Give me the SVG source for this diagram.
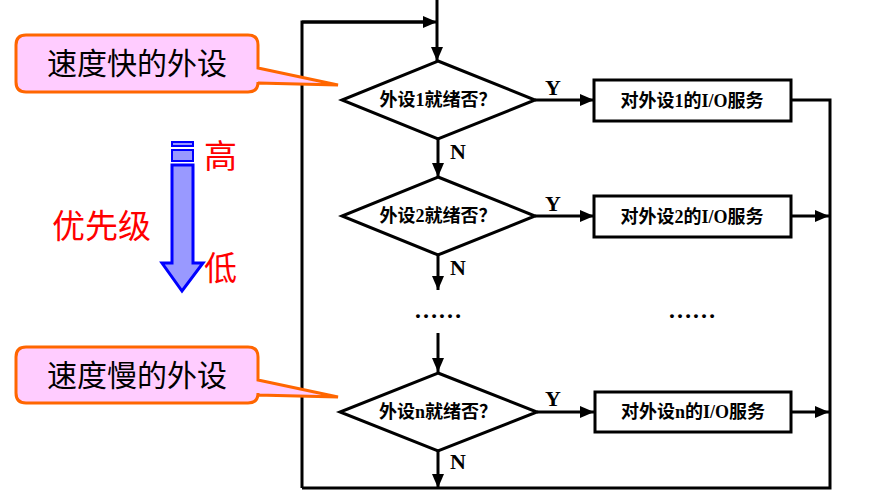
<svg xmlns="http://www.w3.org/2000/svg" width="893" height="495" viewBox="0 0 893 495">
<defs>
<marker id="ah" markerWidth="14" markerHeight="12" refX="14" refY="6" orient="auto" markerUnits="userSpaceOnUse" viewBox="0 0 14 12">
<path d="M0,0 L14,6 L0,12 Z" fill="#000"/>
</marker>
<style>
.ln{fill:none;stroke:#000;stroke-width:3}
.arr{fill:none;stroke:#000;stroke-width:3;marker-end:url(#ah)}
.shape{fill:#fff;stroke:#000;stroke-width:3}
.t{font-family:"Liberation Serif","Noto Sans CJK SC",serif;font-weight:bold;font-size:18px;fill:#000;text-anchor:middle}
.lbl{font-family:"Liberation Serif",serif;font-weight:bold;font-size:22px;fill:#000}
.call{fill:#FFCCFF;stroke:#FF6600;stroke-width:3}
.ct{font-family:"Noto Sans CJK SC",sans-serif;font-size:30px;fill:#000;text-anchor:middle}
.red{font-family:"Noto Sans CJK SC",sans-serif;font-size:33px;fill:#FF0000}
.dots{font-family:"Liberation Serif",serif;font-weight:bold;font-size:24px;fill:#000}
</style>
</defs>

<g id="connectors">
<path class="ln" d="M302,488 L302,22 L426,22"/>
<path class="arr" d="M302,22 L437,22"/>
<path class="arr" d="M437,0 L437,61"/>
<path class="arr" d="M438,139 L438,177"/>
<path class="arr" d="M438,255 L438,290"/>
<path class="arr" d="M438,333 L438,372"/>
<path class="arr" d="M438,451 L438,488"/>
<path class="ln" d="M302,488 L830,488 L830,100 L791,100"/>
<path class="arr" d="M535,100 L594,100"/>
<path class="arr" d="M535,216 L594,216"/>
<path class="arr" d="M537,412 L594,412"/>
<path class="arr" d="M791,216 L829,216"/>
<path class="arr" d="M791,412 L829,412"/>
<text class="lbl" x="545" y="95">Y</text>
<text class="lbl" x="545" y="211">Y</text>
<text class="lbl" x="545" y="406">Y</text>
<text class="lbl" x="450" y="159">N</text>
<text class="lbl" x="450" y="275">N</text>
<text class="lbl" x="450" y="469">N</text>
</g>

<g id="d1">
<polygon class="shape" points="438,61 535,100 438,139 342,100"/>
<text class="t" x="438" y="106">外设1就绪否？</text>
</g>
<g id="b1">
<rect class="shape" x="594" y="80" width="197" height="41"/>
<text class="t" x="692" y="107">对外设1的I/O服务</text>
</g>
<g id="d2">
<polygon class="shape" points="438,177 535,216 438,255 342,216"/>
<text class="t" x="438" y="222">外设2就绪否？</text>
</g>
<g id="b2">
<rect class="shape" x="594" y="196" width="197" height="41"/>
<text class="t" x="692" y="223">对外设2的I/O服务</text>
</g>
<g id="dots">
<text class="dots" x="414" y="318">……</text>
<text class="dots" x="668" y="318">……</text>
</g>
<g id="dn">
<polygon class="shape" points="438,373 537,412 438,451 340,412"/>
<text class="t" x="438" y="418">外设n就绪否？</text>
</g>
<g id="bn">
<rect class="shape" x="595" y="392" width="196" height="40"/>
<text class="t" x="693" y="418">对外设n的I/O服务</text>
</g>

<g id="callout1">
<path class="call" d="M26,35 L248,35 Q258,35 258,45 L258,68 L338,85 L258,83 L258,82 Q258,92 248,92 L26,92 Q16,92 16,82 L16,45 Q16,35 26,35 Z"/>
<text class="ct" x="137" y="74">速度快的外设</text>
</g>
<g id="callout2">
<path class="call" d="M26,347 L248,347 Q258,347 258,357 L258,380 L338,397 L258,395 L258,393 Q258,403 248,403 L26,403 Q16,403 16,393 L16,357 Q16,347 26,347 Z"/>
<text class="ct" x="137" y="386">速度慢的外设</text>
</g>

<g id="priority">
<rect x="172" y="142" width="21" height="4" fill="#9999FF" stroke="#0000FF" stroke-width="2"/>
<rect x="172" y="150" width="21" height="11" fill="#9999FF" stroke="#0000FF" stroke-width="2"/>
<polygon points="172,165 193,165 193,263 203,263 182,291 162,263 172,263" fill="#9999FF" stroke="#0000FF" stroke-width="3"/>
<text class="red" x="204" y="168">高</text>
<text class="red" x="204" y="280">低</text>
<text class="red" x="52" y="238">优先级</text>
</g>
</svg>
